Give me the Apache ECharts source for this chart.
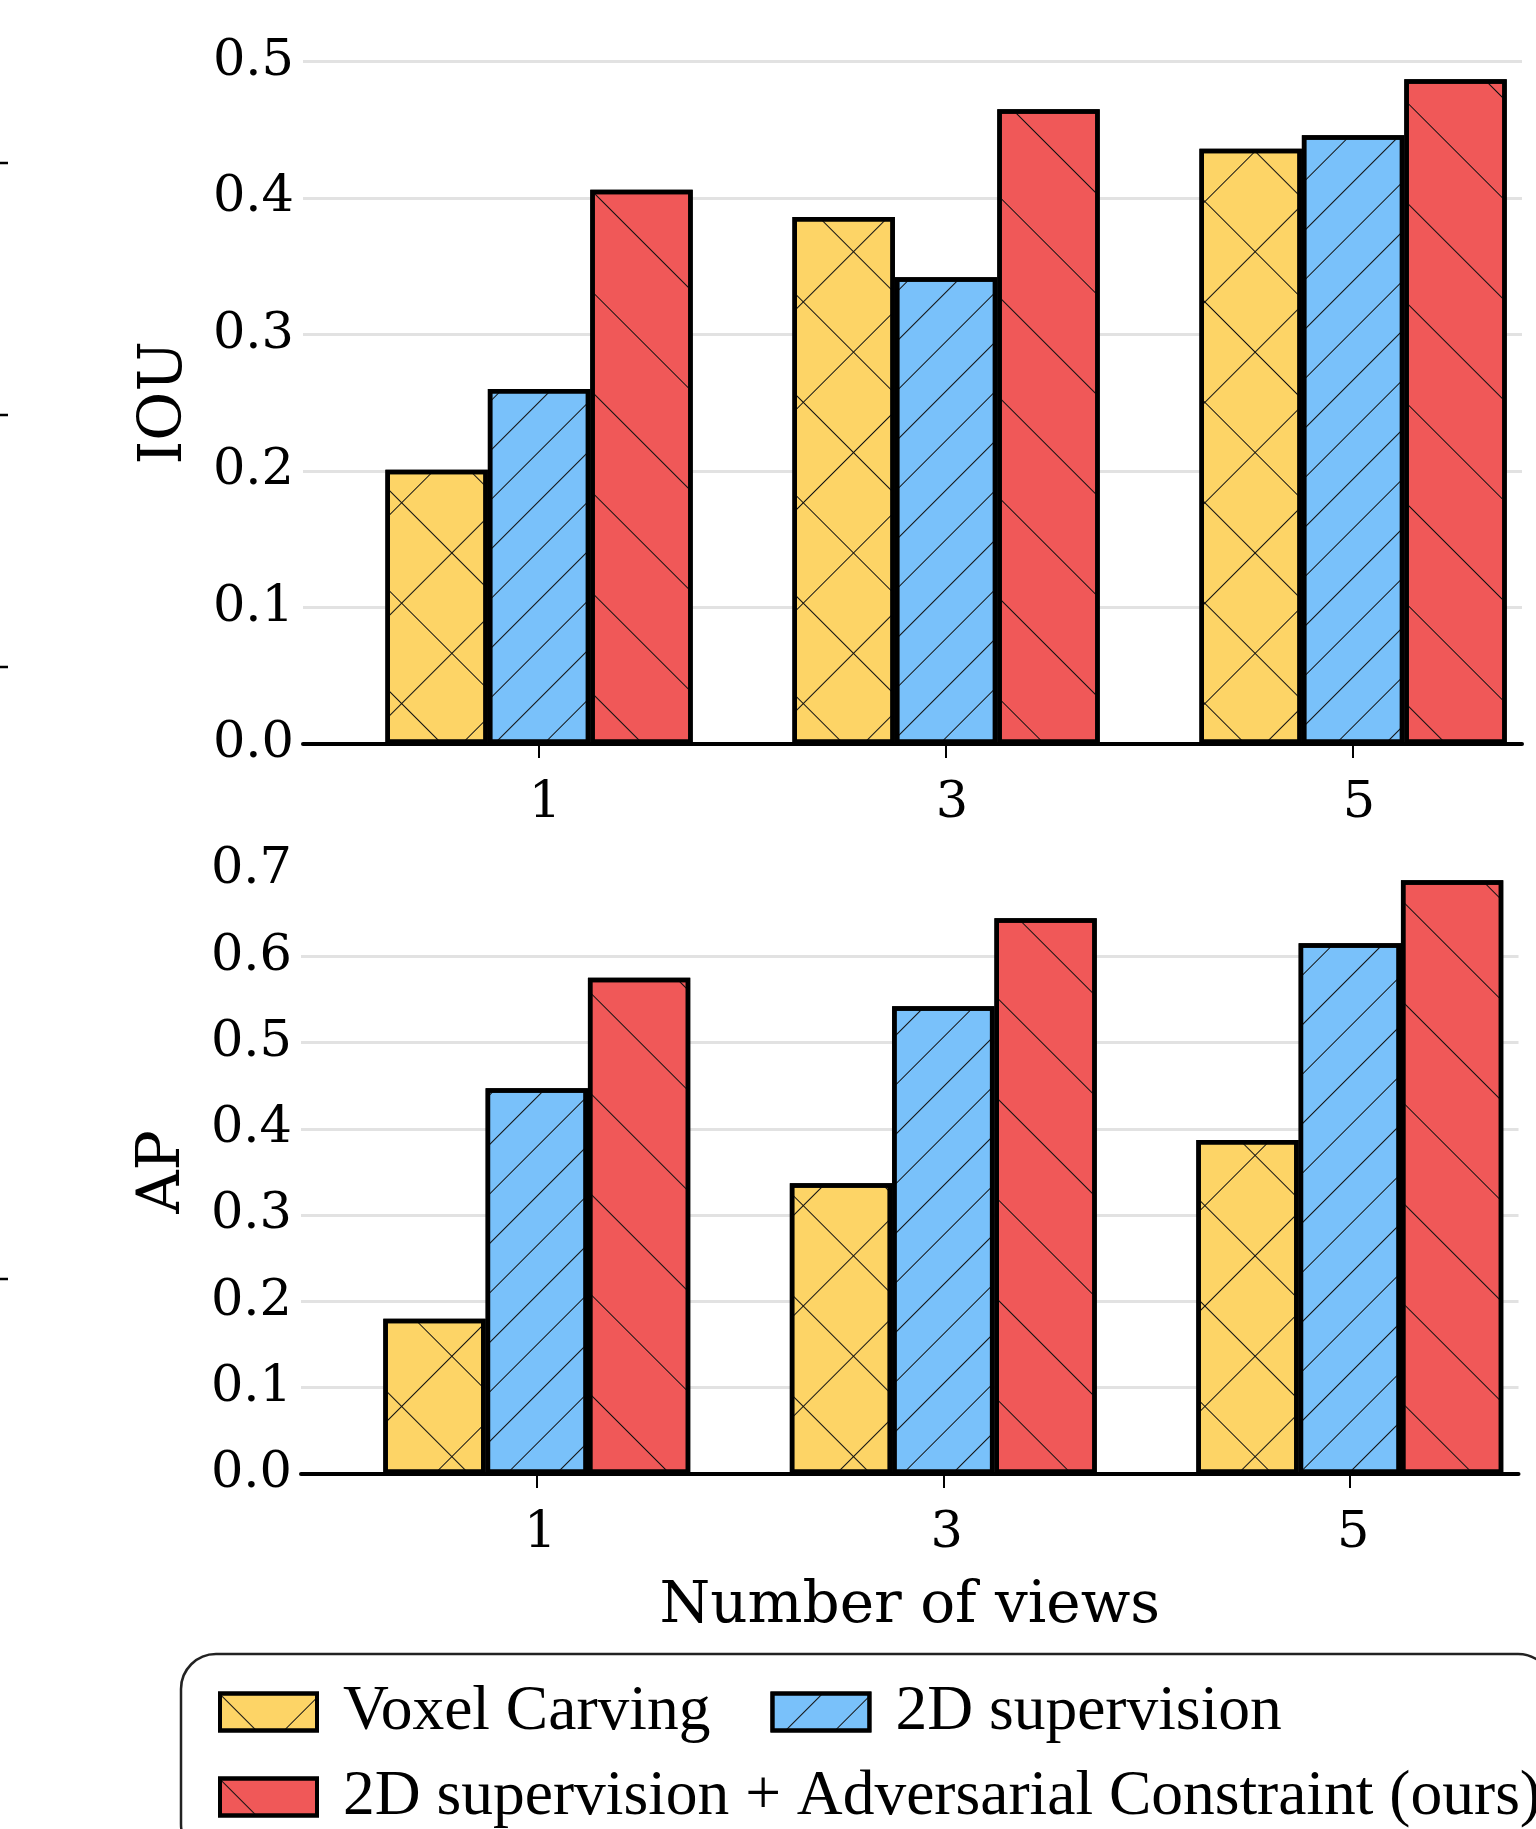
<!DOCTYPE html>
<html>
<head>
<meta charset="utf-8">
<script src="https://cdn.jsdelivr.net/npm/echarts@6/dist/echarts.min.js"></script>
<style>
  html, body { margin: 0; padding: 0; background: #fff; }
  #chart { width: 1536px; height: 1829px; }
</style>
</head>
<body>
<div id="chart"></div>
<script>
// ---- data ----
const categories = ['1', '3', '5'];
const seriesNames = ['Voxel Carving', '2D supervision', '2D supervision + Adversarial Constraint (ours)'];
const iouVoxel = [0.201, 0.386, 0.436];
const iouSup   = [0.260, 0.342, 0.446];
const iouAdv   = [0.406, 0.465, 0.487];
const apVoxel  = [0.180, 0.337, 0.387];
const apSup    = [0.447, 0.542, 0.615];
const apAdv    = [0.575, 0.644, 0.688];
const catPositions = [0, 1, 2];

// ---- styles ----
const colors = ['#FDD466', '#79C1FA', '#F05858'];
const hatchColor = '#111';
const decals = [
  { symbol: 'rect', symbolSize: 1, color: hatchColor, dashArrayX: [[1, 0], [1, 70]], dashArrayY: [1, 0, 70, 0], rotation: Math.PI / 4 },
  { symbol: 'rect', symbolSize: 1, color: hatchColor, dashArrayX: [1, 0], dashArrayY: [1, 34], rotation: -Math.PI / 4 },
  { symbol: 'rect', symbolSize: 1, color: hatchColor, dashArrayX: [1, 0], dashArrayY: [1, 70], rotation: Math.PI / 4 }
];
const serif = 'DejaVu Serif';

function toPairs(vals) { return catPositions.map((p, i) => [p, vals[i]]); }

function xAxisFor(gridIndex, name, labelShift) {
  return {
    type: 'value', gridIndex: gridIndex, min: -0.58, max: 2.415,
    name: name || '', nameLocation: 'middle', nameGap: 104,
    nameTextStyle: { fontFamily: serif, fontSize: 58, color: '#000' },
    axisLine: { show: true, onZero: false, lineStyle: { color: '#000', width: 4 } },
    axisTick: { show: true, length: 14, customValues: catPositions, lineStyle: { color: '#000', width: 2 } },
    axisLabel: { show: true, margin: 34, customValues: catPositions, fontFamily: serif, fontSize: 51, color: '#000',
      padding: [0, 0, 0, labelShift], formatter: v => categories[Math.round(v)] },
    splitLine: { show: false }
  };
}
function yAxisFor(gridIndex, name, max, showMax) {
  return {
    type: 'value', gridIndex: gridIndex, min: 0, max: max, interval: 0.1,
    name: name, nameLocation: 'middle', nameGap: 108, nameRotate: 90,
    nameTextStyle: { fontFamily: serif, fontSize: 60, color: '#000' },
    axisLine: { show: false }, axisTick: { show: false },
    axisLabel: { margin: 9, fontFamily: serif, fontSize: 51, color: '#000', formatter: v => v.toFixed(1) },
    splitLine: { show: true, showMinLine: false, showMaxLine: showMax, lineStyle: { color: '#e2e2e2', width: 3 } }
  };
}
function barSeries(gridIdx, vals, k) {
  return {
    type: 'bar', name: seriesNames[k], xAxisIndex: gridIdx, yAxisIndex: gridIdx,
    data: toPairs(vals), barGap: '0%', barCategoryGap: '24.5%',
    itemStyle: { color: colors[k], borderColor: '#000', borderWidth: 4.5, decal: decals[k] },
    emphasis: { disabled: true }
  };
}

const chart = echarts.init(document.getElementById('chart'), null, { renderer: 'canvas' });
chart.setOption({
  animation: false,
  backgroundColor: '#fff',
  grid: [
    { left: 303, right: 14, top: 61.5, height: 682.5 },
    { left: 301, right: 17.5, top: 870, height: 604 }
  ],
  xAxis: [xAxisFor(0, '', 12), xAxisFor(1, 'Number of views', 7)],
  yAxis: [yAxisFor(0, 'IOU', 0.5, true), yAxisFor(1, 'AP', 0.7, false)],
  legend: [
    {
      z: 6, left: 218, top: 1680, padding: 0, itemGap: 60, orient: 'horizontal',
      data: [seriesNames[0], seriesNames[1]], icon: 'rect', itemWidth: 97, itemHeight: 37,
      itemStyle: { borderColor: '#000', borderWidth: 4 },
      textStyle: { fontFamily: 'Liberation Serif', fontSize: 63.5, color: '#000', padding: [0, 0, 0, 21] },
      selectedMode: false
    },
    {
      z: 5, left: 181, top: 1654, padding: [111, 12, 30, 37],
      data: [seriesNames[2]], icon: 'rect', itemWidth: 97, itemHeight: 37,
      itemStyle: { borderColor: '#000', borderWidth: 4 },
      backgroundColor: '#fff', borderColor: '#222', borderWidth: 2.5, borderRadius: 35,
      textStyle: { fontFamily: 'Liberation Serif', fontSize: 63.5, color: '#000', padding: [0, 0, 0, 21] },
      selectedMode: false
    }
  ],
  graphic: [163, 415, 667, 1279].map(y => ({
    type: 'line', shape: { x1: 0, y1: y, x2: 8, y2: y }, style: { stroke: '#000', lineWidth: 2.5 }, silent: true
  })),
  series: [
    barSeries(0, iouVoxel, 0), barSeries(0, iouSup, 1), barSeries(0, iouAdv, 2),
    barSeries(1, apVoxel, 0), barSeries(1, apSup, 1), barSeries(1, apAdv, 2)
  ]
});
</script>
</body>
</html>
